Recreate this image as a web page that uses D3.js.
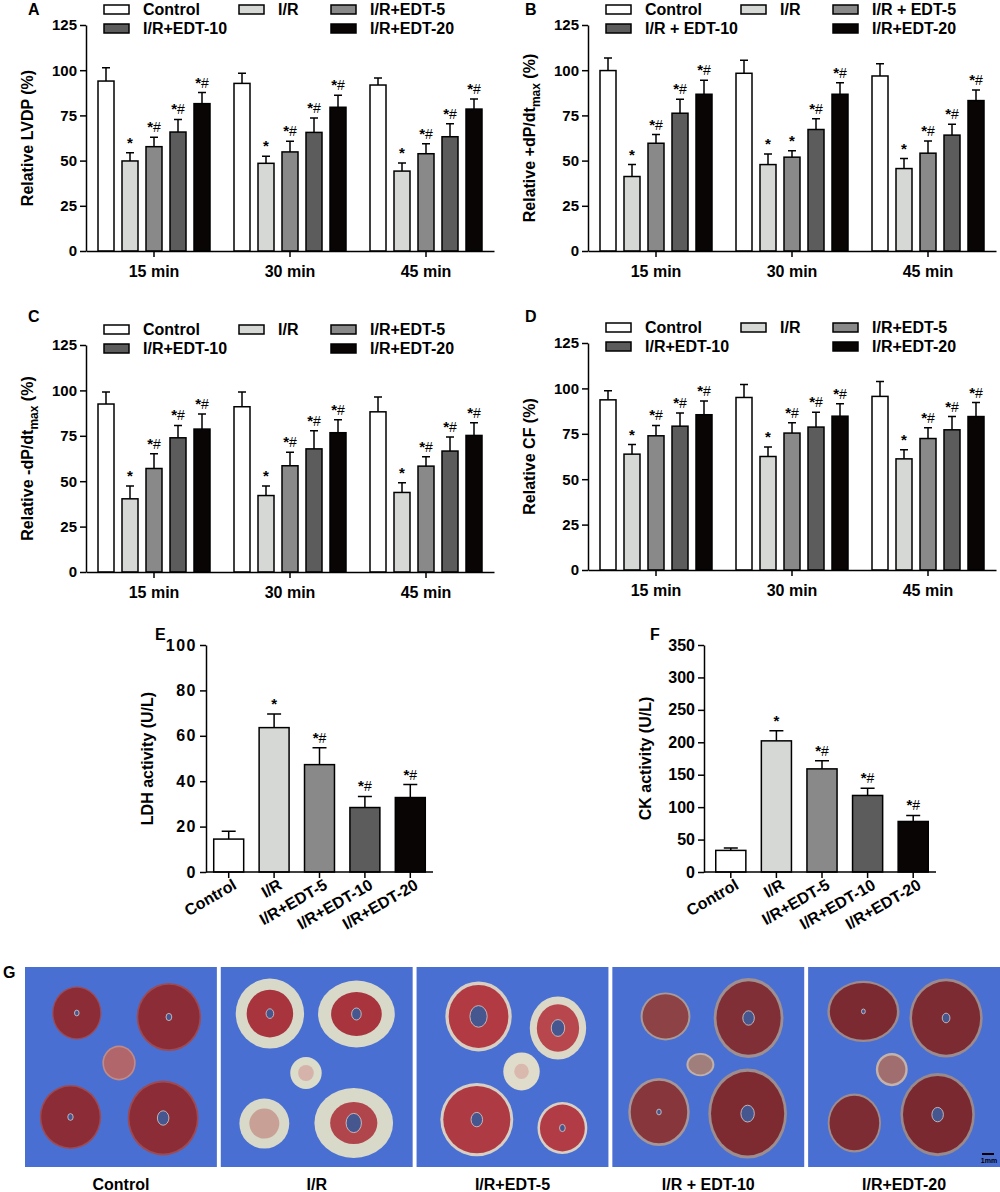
<!DOCTYPE html>
<html>
<head>
<meta charset="utf-8">
<script src="https://cdn.jsdelivr.net/npm/d3@7"></script>
<style>
  body { margin: 0; background: #fff; }
  svg { display: block; font-family: "Liberation Sans", Arial, sans-serif; }
  .axis path, .axis line { stroke: #000; stroke-width: 1.5px; }
  .axis text { font-size: 15px; font-weight: bold; fill: #000; }
</style>
</head>
<body>
<svg id="fig" width="1000" height="1192"></svg>
<script>
// ---- data ----
var groups = ["15 min", "30 min", "45 min"];
var series = ["Control", "I/R", "I/R+EDT-5", "I/R+EDT-10", "I/R+EDT-20"];
var seriesB = ["Control", "I/R", "I/R + EDT-5", "I/R + EDT-10", "I/R+EDT-20"];
var fills = ["#ffffff", "#d6d8d6", "#898989", "#5c5c5c", "#0a0505"];

var lvdpMean = [[94.0, 49.8, 57.7, 65.8, 81.5], [92.7, 48.5, 54.8, 65.6, 79.5], [91.8, 44.2, 53.8, 63.2, 78.5]];
var lvdpErr  = [[7.4, 4.6, 5.2, 7.0, 6.1], [5.6, 3.9, 5.9, 8.0, 6.6], [3.9, 4.5, 5.5, 7.2, 5.6]];
var dpMaxMean = [[99.8, 41.2, 59.6, 76.2, 86.7], [98.3, 47.8, 51.9, 67.2, 86.7], [96.8, 45.6, 54.1, 64.1, 83.2]];
var dpMaxErr  = [[7.0, 6.6, 4.8, 7.8, 7.7], [7.2, 5.8, 3.5, 5.9, 6.3], [6.7, 5.5, 6.8, 6.0, 5.9]];
var dpMinMean = [[92.5, 40.3, 57.0, 73.9, 78.7], [91.0, 42.1, 58.5, 67.8, 76.7], [88.2, 43.8, 58.3, 66.6, 75.2]];
var dpMinErr  = [[6.6, 7.1, 8.1, 6.8, 8.3], [8.1, 5.2, 7.5, 10.0, 7.1], [8.1, 5.3, 5.1, 7.7, 7.0]];
var cfMean = [[93.7, 63.8, 73.9, 79.2, 85.5], [95.0, 62.5, 75.4, 78.7, 84.7], [95.6, 61.2, 72.4, 77.2, 84.5]];
var cfErr  = [[5.0, 5.3, 5.7, 7.2, 7.5], [7.2, 5.2, 5.7, 8.2, 6.8], [8.2, 5.0, 5.9, 7.3, 7.7]];

var marksAll = [["", "*", "*#", "*#", "*#"], ["", "*", "*#", "*#", "*#"], ["", "*", "*#", "*#", "*#"]];
var marksB   = [["", "*", "*#", "*#", "*#"], ["", "*", "*", "*#", "*#"], ["", "*", "*#", "*#", "*#"]];

var ldhMean = [14.5, 63.6, 47.3, 28.4, 32.8];
var ldhErr  = [3.5, 6.0, 7.4, 4.9, 5.7];
var ckMean  = [33.3, 202.2, 159.0, 118.0, 77.9];
var ckErr   = [3.7, 15.4, 12.4, 11.3, 9.3];
var enzMarks = ["", "*", "*#", "*#", "*#"];

var ticks125 = [0, 25, 50, 75, 100, 125];
var ticksLDH = [0, 20, 40, 60, 80, 100];
var ticksCK  = [0, 50, 100, 150, 200, 250, 300, 350];

var photoLabels = ["Control", "I/R", "I/R+EDT-5", "I/R + EDT-10", "I/R+EDT-20"];

var svg = d3.select("#fig");

function letter(txt, x, y) {
  svg.append("text").attr("x", x).attr("y", y)
    .attr("font-size", "16px").attr("font-weight", "bold").text(txt);
}

function yLabel(g, parts, cx, cy) {
  var t = g.append("text")
    .attr("transform", "translate(" + cx + "," + cy + ") rotate(-90)")
    .attr("text-anchor", "middle")
    .attr("font-size", "16px").attr("font-weight", "bold");
  parts.forEach(function(p) {
    var s = t.append("tspan").text(p.t);
    if (p.sub) s.attr("font-size", "12px").attr("dy", 5);
    if (p.up) s.attr("dy", -5);
  });
}

function errBars(g, data, xPos, y, w) {
  g.selectAll(null).data(data).enter().append("path")
    .attr("d", function(d) {
      var cx = xPos(d), top = y(d.m + d.e), b = y(d.m);
      return "M" + cx + "," + b + "V" + top + "M" + (cx - w) + "," + top + "H" + (cx + w);
    })
    .attr("stroke", "#000").attr("stroke-width", 1.5).attr("fill", "none");
  var t = g.selectAll(null).data(data).enter().append("text")
    .attr("x", function(d) { return xPos(d); })
    .attr("y", function(d) { return y(d.m + d.e) - 5; })
    .attr("text-anchor", "middle").attr("font-size", "14px");
  t.append("tspan").attr("font-weight", "bold").attr("font-size", "15px")
    .text(function(d) { return d.mark.charAt(0); });
  t.append("tspan").text(function(d) { return d.mark.slice(1); });
}

function groupedPanel(p) {
  var g = svg.append("g");
  var x = d3.scaleBand().domain(groups).range([p.left, p.right]);
  var xs = d3.scaleBand().domain(d3.range(series.length))
    .range([12, x.bandwidth() - 12]).paddingInner(1 / 3);
  var y = d3.scaleLinear().domain([0, 125]).range([p.bottom, p.top]);

  var data = [];
  groups.forEach(function(gr, gi) {
    series.forEach(function(s, si) {
      data.push({ g: gr, s: si, m: p.mean[gi][si], e: p.err[gi][si], mark: p.marks[gi][si] });
    });
  });

  g.selectAll("rect.bar").data(data).enter().append("rect")
    .attr("class", "bar")
    .attr("x", function(d) { return x(d.g) + xs(d.s); })
    .attr("y", function(d) { return y(d.m); })
    .attr("width", xs.bandwidth())
    .attr("height", function(d) { return y(0) - y(d.m); })
    .attr("fill", function(d) { return fills[d.s]; })
    .attr("stroke", "#000").attr("stroke-width", 1.5);

  errBars(g, data, function(d) { return x(d.g) + xs(d.s) + xs.bandwidth() / 2; }, y, 4);

  g.append("g").attr("class", "axis")
    .attr("transform", "translate(" + p.left + ",0)")
    .call(d3.axisLeft(y).tickValues(ticks125).tickSizeOuter(0));

  var xa = g.append("g").attr("class", "axis")
    .attr("transform", "translate(0," + p.bottom + ")")
    .call(d3.axisBottom(x).tickSizeOuter(0));
  xa.selectAll("text").attr("y", 26).attr("dy", 0).style("font-size", "16px");

  // legend
  var cols = [18, 153, 245], spots = [[0, 0], [1, 0], [2, 0], [0, 1], [2, 1]];
  p.legend.forEach(function(name, i) {
    var lx = p.left + cols[spots[i][0]], ly = p.top - 20 + spots[i][1] * 19;
    g.append("rect").attr("x", lx).attr("y", ly).attr("width", 25).attr("height", 9)
      .attr("fill", fills[i]).attr("stroke", "#000").attr("stroke-width", 1.5);
    g.append("text").attr("x", lx + 39).attr("y", ly + 10)
      .attr("font-size", "16px").attr("font-weight", "bold").text(name);
  });

  yLabel(g, p.ylabel, p.left - 53, (p.top + p.bottom) / 2);
}

groupedPanel({ left: 86, right: 494, top: 25, bottom: 251, mean: lvdpMean, err: lvdpErr,
  marks: marksAll, legend: series, ylabel: [{ t: "Relative LVDP (%)" }] });
groupedPanel({ left: 588, right: 996, top: 25, bottom: 251, mean: dpMaxMean, err: dpMaxErr,
  marks: marksB, legend: seriesB,
  ylabel: [{ t: "Relative +dP/dt" }, { t: "max", sub: true }, { t: " (%)", up: true }] });
groupedPanel({ left: 86, right: 494, top: 345, bottom: 572, mean: dpMinMean, err: dpMinErr,
  marks: marksAll, legend: series,
  ylabel: [{ t: "Relative -dP/dt" }, { t: "max", sub: true }, { t: " (%)", up: true }] });
groupedPanel({ left: 588, right: 996, top: 343, bottom: 570, mean: cfMean, err: cfErr,
  marks: marksAll, legend: series, ylabel: [{ t: "Relative CF (%)" }] });

letter("A", 28, 15);
letter("B", 525, 15);
letter("C", 28, 322);
letter("D", 525, 322);

function enzymePanel(p) {
  var g = svg.append("g");
  var x = d3.scaleBand().domain(series).range([p.x0, p.x1]).paddingInner(0.34).paddingOuter(0.17);
  var y = d3.scaleLinear().domain([0, p.max]).range([p.bottom, p.top]);
  var data = series.map(function(s, i) { return { s: s, i: i, m: p.mean[i], e: p.err[i], mark: enzMarks[i] }; });

  g.selectAll("rect").data(data).enter().append("rect")
    .attr("x", function(d) { return x(d.s); })
    .attr("y", function(d) { return y(d.m); })
    .attr("width", x.bandwidth())
    .attr("height", function(d) { return y(0) - y(d.m); })
    .attr("fill", function(d) { return fills[d.i]; })
    .attr("stroke", "#000").attr("stroke-width", 1.5);

  errBars(g, data, function(d) { return x(d.s) + x.bandwidth() / 2; }, y, 7);

  var ya = g.append("g").attr("class", "axis")
    .attr("transform", "translate(" + p.left + ",0)")
    .call(d3.axisLeft(y).tickValues(p.ticks).tickSizeOuter(0));
  ya.selectAll("text").style("font-size", "16px").style("letter-spacing", p.spacing);

  var xa = g.append("g").attr("class", "axis")
    .attr("transform", "translate(0," + p.bottom + ")")
    .call(d3.axisBottom(x).tickSizeOuter(0));
  xa.select(".domain").remove();
  xa.append("line").attr("x1", p.left).attr("x2", p.x1).attr("stroke", "#000").attr("stroke-width", 1.5);
  xa.selectAll("text")
    .attr("y", 0).attr("dy", 0).attr("text-anchor", "end")
    .attr("transform", "translate(9,16) rotate(-30)")
    .style("font-size", "16px");

  yLabel(g, [{ t: p.ylabel }], p.left - 53, (p.top + p.bottom) / 2);
}

enzymePanel({ left: 206, x0: 206, x1: 433, top: 645, bottom: 872, max: 100, ticks: ticksLDH,
  mean: ldhMean, err: ldhErr, ylabel: "LDH activity (U/L)", spacing: "1.5px" });
enzymePanel({ left: 704, x0: 708, x1: 936, top: 645, bottom: 872, max: 350, ticks: ticksCK,
  mean: ckMean, err: ckErr, ylabel: "CK activity (U/L)", spacing: "0px" });

letter("E", 155, 640);
letter("F", 650, 640);

// ---- G: TTC stained slices (drawn schematically) ----
// each slice: [cx, cy, rx, ry] as fractions of the photo, core fraction, lumen size, core colour, rim colour
var slices = [
  [[0.27, 0.23, 0.128, 0.133, 0.95, 0.012, "#8c2c37", "#9e4a52"],
   [0.75, 0.25, 0.168, 0.17, 0.95, 0.015, "#8c2c37", "#9e4a52"],
   [0.49, 0.48, 0.087, 0.087, 0.9, 0, "#b0666a", "#c08a88"],
   [0.237, 0.75, 0.16, 0.16, 0.95, 0.014, "#8c2c37", "#9e4a52"],
   [0.72, 0.755, 0.185, 0.187, 0.95, 0.03, "#8c2c37", "#9e4a52"]],
  [[0.256, 0.233, 0.178, 0.175, 0.68, 0.02, "#a8343e", "#d8d9c9"],
   [0.707, 0.235, 0.2, 0.167, 0.66, 0.025, "#a8343e", "#d8d9c9"],
   [0.444, 0.53, 0.082, 0.08, 0.5, 0, "#d5b3aa", "#dcdccb"],
   [0.227, 0.783, 0.13, 0.125, 0.6, 0, "#c8a096", "#d8d9c9"],
   [0.693, 0.78, 0.205, 0.175, 0.6, 0.04, "#b0454b", "#d8d9c9"]],
  [[0.323, 0.247, 0.173, 0.175, 0.9, 0.045, "#b23a42", "#d8cfc4"],
   [0.737, 0.305, 0.147, 0.158, 0.75, 0.035, "#b8474d", "#dcd8c8"],
   [0.547, 0.522, 0.095, 0.095, 0.4, 0, "#d9b8ae", "#e0dccb"],
   [0.314, 0.763, 0.19, 0.183, 0.92, 0.03, "#ae3a44", "#d7cfc3"],
   [0.76, 0.805, 0.13, 0.13, 0.9, 0.015, "#b23c45", "#d8d0c4"]],
  [[0.277, 0.247, 0.13, 0.12, 0.92, 0, "#8d4246", "#a99a98"],
   [0.71, 0.255, 0.182, 0.2, 0.92, 0.03, "#812f36", "#9f8f90"],
   [0.459, 0.488, 0.073, 0.058, 0.85, 0, "#a07e7c", "#bfb0ac"],
   [0.243, 0.725, 0.16, 0.17, 0.92, 0.012, "#87363c", "#a69697"],
   [0.705, 0.733, 0.205, 0.225, 0.93, 0.035, "#7e2a31", "#9d8d8e"]],
  [[0.288, 0.222, 0.188, 0.153, 0.93, 0.01, "#7c2a31", "#9d8a8c"],
   [0.719, 0.255, 0.191, 0.197, 0.93, 0.02, "#7d2b32", "#9d8a8c"],
   [0.436, 0.513, 0.083, 0.083, 0.85, 0, "#a06e6e", "#c4b2ac"],
   [0.241, 0.78, 0.139, 0.147, 0.93, 0, "#7e2c33", "#9e8c8e"],
   [0.675, 0.738, 0.194, 0.208, 0.93, 0.03, "#7a2930", "#9a898a"]]
];

var px = d3.scaleBand().domain(photoLabels).range([25, 1000]).paddingInner(0.02);
var pw = px.bandwidth(), pTop = 967, pH = 200;

photoLabels.forEach(function(name, i) {
  var g = svg.append("g").attr("transform", "translate(" + px(name) + "," + pTop + ")");
  var sx = d3.scaleLinear().range([0, pw]), sy = d3.scaleLinear().range([0, pH]);
  g.append("rect").attr("width", pw).attr("height", pH).attr("fill", "#4a6fd2");
  var sl = g.selectAll("g.slice").data(slices[i]).enter().append("g").attr("class", "slice");
  sl.append("ellipse")
    .attr("cx", function(d) { return sx(d[0]); }).attr("cy", function(d) { return sy(d[1]); })
    .attr("rx", function(d) { return d[2] * pw; }).attr("ry", function(d) { return d[3] * pH; })
    .attr("fill", function(d) { return d[7]; });
  sl.append("ellipse")
    .attr("cx", function(d) { return sx(d[0]); }).attr("cy", function(d) { return sy(d[1]); })
    .attr("rx", function(d) { return d[2] * pw * d[4]; }).attr("ry", function(d) { return d[3] * pH * d[4]; })
    .attr("fill", function(d) { return d[6]; });
  sl.filter(function(d) { return d[5] > 0; }).append("ellipse")
    .attr("cx", function(d) { return sx(d[0]); }).attr("cy", function(d) { return sy(d[1]); })
    .attr("rx", function(d) { return d[5] * pw; }).attr("ry", function(d) { return d[5] * pH * 1.2; })
    .attr("fill", "#46568f").attr("stroke", "#d8d0c8").attr("stroke-width", 0.8);

  svg.append("text").attr("x", px(name) + pw / 2).attr("y", 1190)
    .attr("text-anchor", "middle").attr("font-size", "16px").attr("font-weight", "bold")
    .text(name);
});

// scale bar
var lastX = px(photoLabels[4]) + pw;
svg.append("line").attr("x1", lastX - 18).attr("x2", lastX - 6).attr("y1", 1154).attr("y2", 1154)
  .attr("stroke", "#000").attr("stroke-width", 2);
svg.append("text").attr("x", lastX - 11).attr("y", 1163).attr("text-anchor", "middle")
  .attr("font-size", "7px").attr("font-weight", "bold").text("1mm");

letter("G", 3, 978);
</script>
</body>
</html>
